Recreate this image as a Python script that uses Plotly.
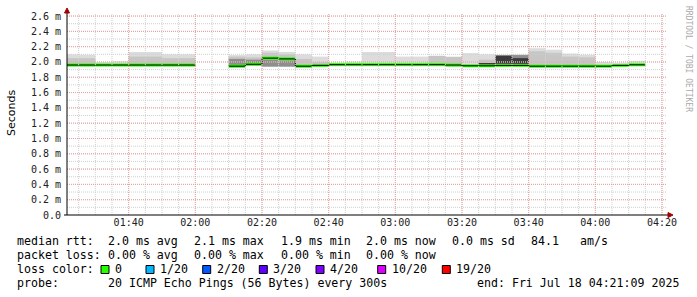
import plotly.graph_objects as go
from datetime import datetime, timedelta

DAY = "2025-07-18"

# ---------------- data (milliseconds) ----------------
step_times = ["01:20", "01:25", "01:30", "01:35", "01:40", "01:45", "01:50", "01:55",
              "02:00", "02:05", "02:10", "02:15", "02:20", "02:25", "02:30", "02:35",
              "02:40", "02:45", "02:50", "02:55", "03:00", "03:05", "03:10", "03:15",
              "03:20", "03:25", "03:30", "03:35", "03:40", "03:45", "03:50", "03:55",
              "04:00", "04:05", "04:10"]

median_ms = [1.96, 1.96, 1.96, 1.96, 1.96, 1.96, 1.96, 1.96,
             None, None, 1.945, 1.97, 2.05, 2.04, 1.945, 1.955,
             1.965, 1.965, 1.965, 1.965, 1.965, 1.965, 1.965, 1.96,
             1.95, 1.95, 1.955, 1.955, 1.945, 1.945, 1.945, 1.945,
             1.945, 1.955, 1.963]

smoke_top_ms = [2.10, 2.095, 2.00, 2.01, 2.13, 2.13, 2.10, 2.10,
                None, None, 2.09, 2.10, 2.15, 2.13, 2.10, 2.07,
                1.99, 2.005, 2.13, 2.13, 2.07, 2.07, 2.08, 2.07,
                2.115, 2.10, 2.095, 2.10, 2.18, 2.16, 2.11, 2.095,
                2.00, 1.99, 2.015]

smoke_mid_ms = [2.05, 2.05, None, None, 2.07, 2.07, 2.05, 2.05,
                None, None, 2.07, 2.06, 2.12, 2.10, 2.04, 2.00,
                None, None, None, None, None, None, 2.08, 2.065,
                None, 2.03, None, None, 2.14, 2.12, 2.07, 2.06,
                None, None, None]

smoke_bottom_ms = [1.945, 1.945, 1.945, 1.945, 1.945, 1.945, 1.945, 1.945,
                   None, None, 1.93, 1.95, 1.94, 1.94, 1.93, 1.94,
                   1.95, 1.95, 1.95, 1.95, 1.95, 1.95, 1.95, 1.94,
                   1.935, 1.935, 1.94, 1.94, 1.93, 1.93, 1.93, 1.93,
                   1.93, 1.94, 1.95]

dark_lo_ms = [None] * 10 + [1.95, 1.96, 1.94, 1.94] + [None] * 13 + [1.975] + [None] * 7
dark_hi_ms = [None] * 10 + [2.04, 2.03, 2.03, 2.02] + [None] * 13 + [2.09] + [None] * 7

black_lo_ms = [None] * 25 + [1.965, 1.975, 1.975] + [None] * 7
black_hi_ms = [None] * 25 + [1.98, 2.085, 2.05] + [None] * 7

y_tick_vals = [0.0, 0.2, 0.4, 0.6, 0.8, 1.0, 1.2, 1.4, 1.6, 1.8, 2.0, 2.2, 2.4, 2.6]
y_tick_text = ["0.0", "0.2 m", "0.4 m", "0.6 m", "0.8 m", "1.0 m", "1.2 m", "1.4 m",
               "1.6 m", "1.8 m", "2.0 m", "2.2 m", "2.4 m", "2.6 m"]
x_tick_times = ["01:40", "02:00", "02:20", "02:40", "03:00", "03:20", "03:40", "04:00", "04:20"]

rtt_label = "median rtt:"
rtt_items = ["2.0 ms avg", "2.1 ms max", "1.9 ms min", "2.0 ms now", "0.0 ms sd", "84.1", "am/s"]
loss_label = "packet loss:"
loss_items = ["0.00 % avg", "0.00 % max", "0.00 % min", "0.00 % now"]
color_label = "loss color:"
loss_classes = ["0", "1/20", "2/20", "3/20", "4/20", "10/20", "19/20"]
loss_colors = ["#26ff00", "#00b8ff", "#0059ff", "#5e00ff", "#7e00ff", "#dd00ff", "#ff0000"]
probe_label = "probe:"
probe_text = "20 ICMP Echo Pings (56 Bytes) every 300s"
end_text = "end: Fri Jul 18 04:21:09 2025"
credit_text = "RRDTOOL / TOBI OETIKER"
y_title = "Seconds"

# ---------------- layout constants ----------------
W, H = 697, 297
PL, PR, PT, PB = 67, 667, 13, 215          # plot box in pixels
STEP_MS = 300000
X_START = datetime(2025, 7, 18, 1, 21, 30)
X_END = X_START + timedelta(hours=3)
Y_MAX = 2.64
MONO = "DejaVu Sans Mono"


def px(X):
    return (X - PL) / (PR - PL)


def py(Y):
    return (PB - Y) / (PB - PT)


def to_dt(hm):
    return datetime.strptime(DAY + " " + hm, "%Y-%m-%d %H:%M")


times = [to_dt(s) for s in step_times]


def band(lo, hi, color):
    xs, bases, hs = [], [], []
    for t, a, b in zip(times, lo, hi):
        if a is None or b is None:
            continue
        xs.append(t)
        bases.append(a)
        hs.append(b - a)
    return go.Bar(x=xs, y=hs, base=bases, width=STEP_MS, offset=0,
                  marker=dict(color=color, line=dict(width=0)),
                  hoverinfo="skip", showlegend=False)


fig = go.Figure()
fig.add_trace(band(smoke_bottom_ms, smoke_top_ms, "#dcdcdc"))
fig.add_trace(band(smoke_bottom_ms, smoke_mid_ms, "#c6c6c6"))
fig.add_trace(band(dark_lo_ms, dark_hi_ms, "#8e8e8e"))
fig.add_trace(band(black_lo_ms, black_hi_ms, "#3a3a3a"))

# black median step line (vertical transitions)
lx, ly = [], []
for i, (t, m) in enumerate(zip(times, median_ms)):
    if m is None:
        continue
    lx.append(t)
    ly.append(m)
    nxt = median_ms[i + 1] if i + 1 < len(median_ms) else None
    if nxt is None:
        lx.append(t + timedelta(milliseconds=STEP_MS))
        ly.append(m)
        lx.append(None)
        ly.append(None)
fig.add_trace(go.Scatter(x=lx, y=ly, mode="lines", line=dict(color="#000000", width=1, shape="hv"),
                         hoverinfo="skip", showlegend=False, connectgaps=False))

# green median band (3 px thick)
half = 1.5 * Y_MAX / (PB - PT)
med_lo = [None if m is None else m - half for m in median_ms]
med_hi = [None if m is None else m + half for m in median_ms]
fig.add_trace(band(med_lo, med_hi, loss_colors[0]))

shapes = []
# grid (drawn above smoke like rrdtool)
minor_dash = "1px,1px"
t = to_dt("01:25")
while t <= X_END:
    shapes.append(dict(type="line", xref="x", yref="paper", x0=t, x1=t, y0=0, y1=1,
                       line=dict(color="#cfcfcf", width=1, dash=minor_dash), layer="above"))
    t += timedelta(minutes=5)
for k in range(1, 27):
    v = k * 0.1
    shapes.append(dict(type="line", xref="paper", yref="y", x0=0, x1=1, y0=v, y1=v,
                       line=dict(color="#cfcfcf", width=1, dash=minor_dash), layer="above"))
for hm in x_tick_times:
    tt = to_dt(hm)
    shapes.append(dict(type="line", xref="x", yref="paper", x0=tt, x1=tt, y0=0, y1=1,
                       line=dict(color="#e9a0a0", width=1, dash=minor_dash), layer="above"))
for v in y_tick_vals[1:]:
    shapes.append(dict(type="line", xref="paper", yref="y", x0=0, x1=1, y0=v, y1=v,
                       line=dict(color="#e9a0a0", width=1, dash=minor_dash), layer="above"))

# axes with arrows
shapes.append(dict(type="line", xref="paper", yref="paper", x0=0, x1=0, y0=0, y1=py(11),
                   line=dict(color="#000000", width=1), layer="above"))
shapes.append(dict(type="line", xref="paper", yref="paper", x0=px(64), x1=px(670), y0=0, y1=0,
                   line=dict(color="#000000", width=1), layer="above"))
shapes.append(dict(type="path", xref="paper", yref="paper",
                   path=f"M {px(64.5)} {py(13)} L {px(69.5)} {py(13)} L {px(67)} {py(8)} Z",
                   fillcolor="#a00000", line=dict(color="#a00000", width=1), layer="above"))
shapes.append(dict(type="path", xref="paper", yref="paper",
                   path=f"M {px(668)} {py(212.5)} L {px(668)} {py(217.5)} L {px(673)} {py(215)} Z",
                   fillcolor="#a00000", line=dict(color="#a00000", width=1), layer="above"))

annotations = []


def text(x, y, s, size=11.6, anchor="left", color="#000000", family=MONO, angle=0):
    annotations.append(dict(xref="paper", yref="paper", x=px(x), y=py(y), text=s, showarrow=False,
                            xanchor=anchor, yanchor="middle", textangle=angle,
                            font=dict(family=family, size=size, color=color), borderpad=0))


col_x = [107.3, 193.3, 280, 365, 451, 530, 579.3]
row_y = [241, 255, 269, 283]

text(16, row_y[0], rtt_label)
for xx, s in zip(col_x, rtt_items):
    text(xx, row_y[0], s)
text(16, row_y[1], loss_label)
for xx, s in zip(col_x, loss_items):
    text(xx, row_y[1], s)
text(16, row_y[2], color_label)
box_x = [101, 146, 202.7, 259.3, 316, 377.7, 442.3]
for bx, lab, c in zip(box_x, loss_classes, loss_colors):
    shapes.append(dict(type="rect", xref="paper", yref="paper", x0=px(bx), x1=px(bx + 8),
                       y0=py(row_y[2] + 4.5), y1=py(row_y[2] - 3.5),
                       fillcolor=c, line=dict(color="#000000", width=1), layer="above"))
    text(bx + 13, row_y[2], lab)
text(16, row_y[3], probe_label)
text(107.3, row_y[3], probe_text)
text(680, row_y[3], end_text, anchor="right")

text(11, 113, y_title, size=11, family="DejaVu Sans", angle=-90, anchor="center")
annotations.append(dict(xref="paper", yref="paper", x=px(688), y=py(59), text=credit_text,
                        showarrow=False, xanchor="center", yanchor="middle", textangle=90,
                        font=dict(family=MONO, size=8, color="#aaaaaa")))

fig.update_layout(
    width=W, height=H,
    margin=dict(l=PL, r=W - PR, t=PT, b=H - PB, pad=0),
    paper_bgcolor="#ffffff", plot_bgcolor="#ffffff",
    barmode="overlay", showlegend=False,
    shapes=shapes, annotations=annotations,
    xaxis=dict(type="date", range=[X_START, X_END], tickmode="array",
               tickvals=[to_dt(s) for s in x_tick_times], ticktext=x_tick_times,
               showgrid=False, zeroline=False, showline=False, ticks="",
               tickfont=dict(family=MONO, size=10, color="#202020")),
    yaxis=dict(range=[0, Y_MAX], tickmode="array", tickvals=y_tick_vals, ticktext=y_tick_text,
               showgrid=False, zeroline=False, showline=False, ticks="",
               ticklabelstandoff=5,
               tickfont=dict(family=MONO, size=10, color="#202020")),
)

fig.write_html("out.html")
